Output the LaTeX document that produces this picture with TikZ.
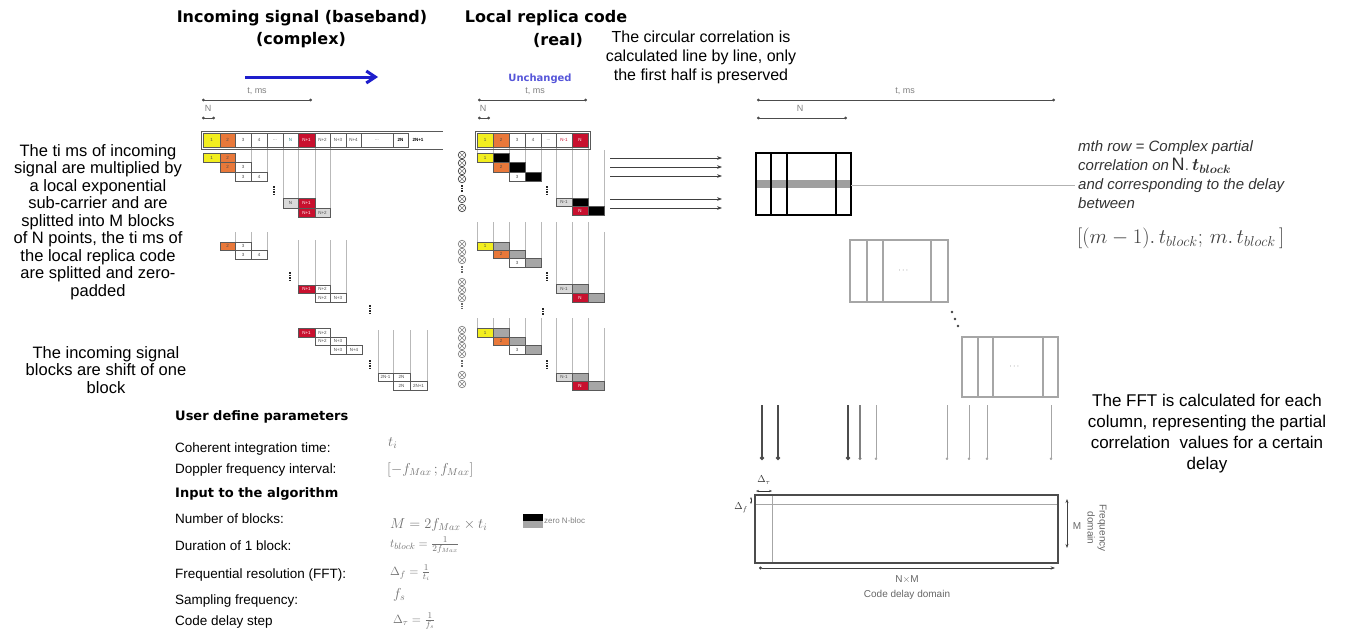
\documentclass[tikz,border=0pt]{standalone}
\usepackage{amsmath}
\usepackage{fontspec}
\setmainfont{Liberation Sans}
\newfontfamily\hdrfont{DejaVu Sans}
\usetikzlibrary{arrows.meta}
\definecolor{cyel}{HTML}{F2EE1E}
\definecolor{corg}{HTML}{E8783A}
\definecolor{cred}{HTML}{C8102E}
\definecolor{cgry}{HTML}{A6A6A6}
\definecolor{clgt}{HTML}{D9D9D9}
\definecolor{cblue}{HTML}{1E1ECC}
\definecolor{mgray}{HTML}{707070}
\definecolor{cteal}{HTML}{2E8B8B}
\newcounter{cellno}
\newcommand{\cellbox}[7]{\stepcounter{cellno}\draw[cellline,fill=#5] (#1,#2) rectangle (#3,#4) node[celltxt,text=#7] (cb\thecellno) at ({(#1+#3)/2},{(#2+#4)/2}) {#6};}
\newcounter{multno}
\newcommand{\multat}[3]{\stepcounter{multno}\node[mult,draw=#3] (mu\themultno) at (#1,#2) {};}
\begin{document}
\begin{tikzpicture}[x=1pt,y=-1pt,
  cellline/.style={draw=black!65,line width=0.7},
  celltxt/.style={font=\fontsize{4.5}{5}\selectfont,inner sep=0},
  para/.style={font=\fontsize{16.5}{17.5}\selectfont,align=center,text=black},
  hdr/.style={font=\hdrfont\bfseries\fontsize{16}{18}\selectfont,text=black},
  faint/.style={draw=gray!55,line width=0.6},
  vdot/.style={draw=black!85,line width=2,dash pattern=on 1.6pt off 0.9pt},
  ruler/.style={draw=black!70,line width=0.8,{Circle[length=2.8pt]}-{Circle[length=2.8pt]}},
  small/.style={font=\fontsize{9}{10}\selectfont,text=gray},
  harrow/.style={draw=black!75,line width=1,-{Stealth[length=5pt]}},
  mult/.style={circle,minimum size=7.5pt,inner sep=0,line width=0.7,
    path picture={\draw[line width=0.5,draw=gray] (path picture bounding box.south west)--(path picture bounding box.north east) (path picture bounding box.north west)--(path picture bounding box.south east);}},
  mat/.style={draw=cgry,line width=1.5},
  darA/.style={draw=black!70,line width=1.8,-{Circle[length=4pt]}},
  darB/.style={draw=gray,line width=1.1,-{Circle[length=3pt]}},
  darC/.style={draw=gray!70,line width=0.8,-{Circle[length=2.5pt]}},
  plabel/.style={anchor=west,font=\fontsize{13.5}{15}\selectfont,inner sep=0},
  pbold/.style={anchor=west,font=\hdrfont\bfseries\fontsize{13}{15}\selectfont,inner sep=0},
  pmath/.style={anchor=west,text=mgray,font=\fontsize{14}{15}\selectfont,inner sep=0},
  rtxt/.style={anchor=west,font=\itshape\fontsize{15}{17}\selectfont,text=black!80,inner sep=0},
  dlabel/.style={font=\fontsize{10}{12}\selectfont,text=gray!80!black}
]
\useasboundingbox (0,0) rectangle (1346,634);

% ---------- headers ----------
\node[hdr] (h1) at (302,18) {Incoming signal (baseband)};
\node[hdr] (h1b) at (301,40) {(complex)};
\node[hdr] (h2) at (546,18) {Local replica code};
\node[hdr] (h2b) at (558,40) {(real)};
\node[font=\fontsize{16}{19}\selectfont,align=center] (circ) at (701,57) {The circular correlation is\\calculated line by line, only\\the first half is preserved};

\coordinate (ba1) at (245,77); \coordinate (ba2) at (378,77);
\draw[cblue,line width=3,-{Straight Barb[length=9pt,width=12pt]}] (ba1) -- (ba2);
\node[font=\hdrfont\bfseries\fontsize{10}{11}\selectfont,text=cblue!75] (unch) at (540,79) {Unchanged};

% ---------- left texts ----------
\node[para] (lt1) at (98,222) {The ti ms of incoming\\signal are multiplied by\\a local exponential\\sub-carrier and are\\splitted into M blocks\\of N points, the ti ms of\\the local replica code\\are splitted and zero-\\padded};
\node[para] (lt2) at (106,370) {The incoming signal\\blocks are shift of one\\block};

% ---------- rulers ----------
\coordinate (r1a) at (202,100); \coordinate (r1b) at (312,100);
\draw[ruler] (r1a) -- (r1b);
\node[small] (r1t) at (257,91) {t, ms};
\coordinate (n1a) at (202,118); \coordinate (n1b) at (215,118);
\draw[ruler] (n1a) -- (n1b);
\node[small] (n1t) at (208,108) {N};
\coordinate (r2a) at (478,100); \coordinate (r2b) at (587,100);
\draw[ruler] (r2a) -- (r2b);
\node[small] (r2t) at (535,91) {t, ms};
\coordinate (n2a) at (478,118); \coordinate (n2b) at (490,118);
\draw[ruler] (n2a) -- (n2b);
\node[small] (n2t) at (483,108) {N};

% ---------- incoming signal ----------
\draw[faint] (251,147)--(251,172) (267,147)--(267,172) (283,147)--(283,198) (298,147)--(298,198) (315,147)--(315,198) (330,147)--(330,208);
\draw[faint] (235,232)--(235,242) (251,232)--(251,242) (267,232)--(267,250) (298,240)--(298,285) (315,240)--(315,285) (330,240)--(330,285) (346,240)--(346,293);
\draw[faint] (378,330)--(378,373) (393,330)--(393,373) (410,330)--(410,373) (427,330)--(427,381);

\draw[black!65,line width=1] (201,131) -- (443,131) (201,149) -- (443,149) (201,131) -- (201,149);
\cellbox{203}{133}{220}{147}{cyel}{1}{black!70}
\cellbox{220}{133}{235}{147}{corg}{2}{black!70}
\cellbox{235}{133}{251}{147}{white}{3}{black!70}
\cellbox{251}{133}{267}{147}{white}{4}{black!70}
\cellbox{267}{133}{283}{147}{white}{...}{black!70}
\cellbox{283}{133}{298}{147}{white}{N}{cteal}
\cellbox{298}{133}{315}{147}{cred}{N+1}{white}
\cellbox{315}{133}{330}{147}{white}{N+2}{black!70}
\cellbox{330}{133}{346}{147}{white}{N+3}{black!70}
\cellbox{346}{133}{361}{147}{white}{N+4}{black!70}
\cellbox{361}{133}{393}{147}{white}{...}{black!70}
\cellbox{393}{133}{408}{147}{white}{\textbf{2N}}{black}
\node[celltxt,text=black] (lastlab) at (418,140) {\textbf{2N+1}};

\cellbox{203}{153}{220}{162}{cyel}{1}{black!70}
\cellbox{220}{153}{235}{162}{corg}{2}{black!70}
\cellbox{220}{162}{235}{172}{corg}{2}{black!70}
\cellbox{235}{162}{251}{172}{white}{3}{black!70}
\cellbox{235}{172}{251}{181}{white}{3}{black!70}
\cellbox{251}{172}{267}{181}{white}{4}{black!70}
\draw[vdot] (274,186) -- (274,194);
\cellbox{283}{198}{298}{208}{clgt}{N}{black!70}
\cellbox{298}{198}{315}{208}{cred}{N+1}{white}
\cellbox{298}{208}{315}{217}{cred}{N+1}{white}
\cellbox{315}{208}{330}{217}{clgt}{N+2}{black!70}

\cellbox{220}{242}{235}{250}{corg}{2}{black!70}
\cellbox{235}{242}{251}{250}{white}{3}{black!70}
\cellbox{235}{250}{251}{259}{white}{3}{black!70}
\cellbox{251}{250}{267}{259}{white}{4}{black!70}
\draw[vdot] (290,272) -- (290,280);
\cellbox{298}{285}{315}{293}{cred}{N+1}{white}
\cellbox{315}{285}{330}{293}{white}{N+2}{black!70}
\cellbox{315}{293}{330}{302}{white}{N+2}{black!70}
\cellbox{330}{293}{346}{302}{white}{N+3}{black!70}
\draw[vdot] (370,305) -- (370,313);

\cellbox{298}{328}{315}{337}{cred}{N+1}{white}
\cellbox{315}{328}{330}{337}{white}{N+2}{black!70}
\cellbox{315}{337}{330}{345}{white}{N+2}{black!70}
\cellbox{330}{337}{346}{345}{white}{N+3}{black!70}
\cellbox{330}{345}{346}{354}{white}{N+3}{black!70}
\cellbox{346}{345}{362}{354}{white}{N+4}{black!70}
\draw[vdot] (370,360) -- (370,368);
\cellbox{378}{373}{393}{381}{white}{2N-1}{black!70}
\cellbox{393}{373}{410}{381}{white}{2N}{black!70}
\cellbox{393}{381}{410}{390}{white}{2N}{black!70}
\cellbox{410}{381}{427}{390}{white}{2N+1}{black!70}

% ---------- local replica ----------
\draw[faint] (477,147)--(477,153) (493,147)--(493,153) (509,147)--(509,162) (525,147)--(525,172) (541,147)--(541,172) (556,147)--(556,198) (572,147)--(572,198) (588,147)--(588,198) (604,150)--(604,206);
\draw[faint] (477,222)--(477,242) (493,222)--(493,242) (509,222)--(509,250) (525,222)--(525,258) (541,222)--(541,258) (556,222)--(556,284) (572,222)--(572,284) (588,222)--(588,284) (604,232)--(604,293);
\draw[faint] (477,318)--(477,328) (493,318)--(493,328) (509,318)--(509,337) (525,318)--(525,345) (541,318)--(541,345) (556,318)--(556,373) (572,318)--(572,373) (588,318)--(588,373) (604,328)--(604,381);

\draw[black!65,line width=1] (475,131) rectangle (590,149);
\cellbox{477}{133}{493}{147}{cyel}{1}{black!70}
\cellbox{493}{133}{509}{147}{corg}{2}{black!70}
\cellbox{509}{133}{525}{147}{white}{3}{black!70}
\cellbox{525}{133}{541}{147}{white}{4}{black!70}
\cellbox{541}{133}{556}{147}{white}{...}{black!70}
\cellbox{556}{133}{572}{147}{white}{N-1}{cred}
\cellbox{572}{133}{588}{147}{cred}{N}{white}

\cellbox{477}{153}{493}{162}{cyel}{1}{black!70}
\cellbox{493}{153}{509}{162}{black}{}{white}
\cellbox{493}{162}{509}{172}{corg}{2}{black!70}
\cellbox{509}{162}{525}{172}{black}{}{white}
\cellbox{509}{172}{525}{181}{white}{3}{black!70}
\cellbox{525}{172}{541}{181}{black}{}{white}
\draw[vdot] (547,186) -- (547,194);
\cellbox{556}{198}{572}{206}{clgt}{N-1}{black!70}
\cellbox{572}{198}{588}{206}{black}{}{white}
\cellbox{572}{206}{588}{215}{cred}{N}{white}
\cellbox{588}{206}{604}{215}{black}{}{white}

\cellbox{477}{242}{493}{250}{cyel}{1}{black!70}
\cellbox{493}{242}{509}{250}{cgry}{}{white}
\cellbox{493}{250}{509}{258}{corg}{2}{black!70}
\cellbox{509}{250}{525}{258}{cgry}{}{white}
\cellbox{509}{258}{525}{267}{white}{3}{black!70}
\cellbox{525}{258}{541}{267}{cgry}{}{white}
\draw[vdot] (547,272) -- (547,280);
\cellbox{556}{284}{572}{293}{clgt}{N-1}{black!70}
\cellbox{572}{284}{588}{293}{cgry}{}{white}
\cellbox{572}{293}{588}{302}{cred}{N}{white}
\cellbox{588}{293}{604}{302}{cgry}{}{white}
\draw[vdot] (543,308) -- (543,315);

\cellbox{477}{328}{493}{337}{cyel}{1}{black!70}
\cellbox{493}{328}{509}{337}{cgry}{}{white}
\cellbox{493}{337}{509}{345}{corg}{2}{black!70}
\cellbox{509}{337}{525}{345}{cgry}{}{white}
\cellbox{509}{345}{525}{354}{white}{3}{black!70}
\cellbox{525}{345}{541}{354}{cgry}{}{white}
\draw[vdot] (547,360) -- (547,368);
\cellbox{556}{373}{572}{381}{clgt}{N-1}{black!70}
\cellbox{572}{373}{588}{381}{cgry}{}{white}
\cellbox{572}{381}{588}{390}{cred}{N}{white}
\cellbox{588}{381}{604}{390}{cgry}{}{white}

% multiplication marks
\multat{462}{155}{black!75}\multat{462}{163}{black!75}\multat{462}{171}{black!75}\multat{462}{179}{black!75}
\draw[vdot] (462,185) -- (462,192);
\multat{462}{199}{black!75}\multat{462}{208}{black!75}
\multat{462}{244}{gray}\multat{462}{252}{gray}\multat{462}{260}{gray}
\draw[vdot,draw=black!60] (462,266) -- (462,273);
\multat{462}{282}{gray}\multat{462}{290}{gray}\multat{462}{298}{gray}
\draw[vdot,draw=black!60] (462,303) -- (462,309);
\multat{462}{330}{gray}\multat{462}{338}{gray}\multat{462}{346}{gray}\multat{462}{354}{gray}
\draw[vdot,draw=black!60] (462,360) -- (462,367);
\multat{462}{375}{gray}\multat{462}{384}{gray}

% ---------- middle arrows ----------
\foreach \yy [count=\k] in {158,167,176,199,208}{
  \coordinate (ma\k) at (610,\yy); \coordinate (mb\k) at (722,\yy);
  \draw[harrow] (ma\k) -- (mb\k);
}

% ---------- right rulers ----------
\coordinate (r3a) at (757,100); \coordinate (r3b) at (1055,100);
\draw[ruler] (r3a) -- (r3b);
\node[small] (r3t) at (905,91) {t, ms};
\coordinate (n3a) at (757,118); \coordinate (n3b) at (847,118);
\draw[ruler] (n3a) -- (n3b);
\node[small] (n3t) at (800,108) {N};

% ---------- matrix 1 ----------
\fill[gray!75] (756,180) rectangle (851,188);
\draw[black,line width=1.4] (771,153) -- (771,215) (787,153) -- (787,215) (836,153) -- (836,215);
\draw[black,line width=2.2] (756,153) rectangle (851,215);
\coordinate (m1r) at (851,185); \coordinate (m1t) at (1075,185);
\draw[gray!60,line width=0.8] (m1r) -- (m1t);

\node[rtxt] (rt1) at (1078,148) {mth row = Complex partial};
\node[rtxt] (rt2) at (1078,166) {correlation on\,\textup{\fontsize{18}{18}\selectfont$\mathrm{N}.\,\boldsymbol{t}_{\boldsymbol{block}}$}};
\node[rtxt] (rt3) at (1078,186) {and corresponding to the delay};
\node[rtxt] (rt4) at (1078,203) {between};
\node[anchor=west,inner sep=0,text=black!75,font=\fontsize{22}{23}\selectfont] (rt5) at (1077,238) {$[(m-1).\,t_{block};\,m.\,t_{block}\,]$};

% ---------- matrices 2 and 3 ----------
\draw[mat] (867,240) -- (867,302) (883,240) -- (883,302) (931,240) -- (931,302);
\draw[mat] (850,240) rectangle (948,302);
\node[font=\fontsize{8}{8}\selectfont,text=black!70] (d2) at (904,271) {$\cdots$};
\draw[mat] (978,337) -- (978,397) (993,337) -- (993,397) (1043,337) -- (1043,397);
\draw[mat] (962,337) rectangle (1058,397);
\node[font=\fontsize{8}{8}\selectfont,text=black!70] (d3) at (1015,367) {$\cdots$};
\fill[black!75] (952,312) circle (1.3) (955,319) circle (1.3) (958,326) circle (1.3);

% ---------- down arrows ----------
\foreach \xx/\st [count=\k] in {762/darA,778/darA,848/darA,860/darB,876/darC,947/darC,969/darC,987/darC,1051/darC}{
  \coordinate (da\k) at (\xx,405); \coordinate (db\k) at (\xx,460);
  \draw[\st] (da\k) -- (db\k);
}

\node[font=\fontsize{17}{21}\selectfont,align=center] (fft) at (1207,434) {The FFT is calculated for each\\column, representing the partial\\correlation\ \ values for a certain\\delay};

% ---------- result matrix ----------
\draw[gray!70,line width=0.7] (772,495) -- (772,563) (755,504) -- (1058,504);
\draw[black!70,line width=1.8] (755,495) rectangle (1058,563);
\coordinate (dt1) at (756,491); \coordinate (dt2) at (772,491);
\draw[black!80,line width=0.7,{Stealth[length=3pt]}-{Stealth[length=3pt]}] (dt1) -- (dt2);
\node[dlabel,text=black!80] (dtl) at (764,480) {$\Delta_\tau$};
\coordinate (df1) at (751,497); \coordinate (df2) at (751,504);
\draw[black!80,line width=0.7,{Stealth[length=2.5pt]}-{Stealth[length=2.5pt]}] (df1) -- (df2);
\node[dlabel,text=black!80] (dfl) at (741,508) {$\Delta_f$};
\coordinate (mm1) at (1067,499); \coordinate (mm2) at (1067,548);
\draw[black!75,line width=0.8,{Stealth[length=4pt]}-{Stealth[length=4pt]}] (mm1) -- (mm2);
\node[dlabel] (ml) at (1077,526) {M};
\node[dlabel,rotate=-90,align=center] (fd) at (1097,528) {Frequency\\domain};
\coordinate (nm1) at (759,568); \coordinate (nm2) at (1055,568);
\draw[black!75,line width=1,{Circle[length=3pt]}-{Stealth[length=4.5pt]}] (nm1) -- (nm2);
\node[dlabel] (nml) at (907,579) {N$\times$M};
\node[dlabel] (cdl) at (907,595) {Code delay domain};

% ---------- parameters ----------
\node[pbold] (p0) at (175,417) {User define parameters};
\node[plabel] (p1) at (175,449) {Coherent integration time:};
\node[plabel] (p2) at (175,470) {Doppler frequency interval:};
\node[pbold] (p3) at (175,494) {Input to the algorithm};
\node[plabel] (p4) at (175,519) {Number of blocks:};
\node[plabel] (p5) at (175,546) {Duration of 1 block:};
\node[plabel] (p6) at (175,575) {Frequential resolution (FFT):};
\node[plabel] (p7) at (175,601) {Sampling frequency:};
\node[plabel] (p8) at (175,622) {Code delay step};
\node[pmath] (q1) at (388,443) {$t_i$};
\node[pmath] (q2) at (387,470) {$[-f_{Max}\,;f_{Max}]$};
\node[pmath] (q4) at (390,525) {$M = 2f_{Max}\times t_i$};
\node[pmath,font=\fontsize{13}{14}\selectfont] (q5) at (390,545) {$t_{block} = \frac{1}{2f_{Max}}$};
\node[pmath,font=\fontsize{13}{14}\selectfont] (q6) at (390,573) {$\Delta_f = \frac{1}{t_i}$};
\node[pmath] (q7) at (393,595) {$f_s$};
\node[pmath,font=\fontsize{13}{14}\selectfont] (q8) at (393,621) {$\Delta_\tau = \frac{1}{f_s}$};
\fill[black] (523,514) rectangle (543,521);
\fill[cgry] (523,521) rectangle (543,528);
\node[anchor=west,inner sep=0,font=\fontsize{8}{9}\selectfont,text=gray] (zl) at (544,521) {zero N-bloc};
\end{tikzpicture}
\end{document}
